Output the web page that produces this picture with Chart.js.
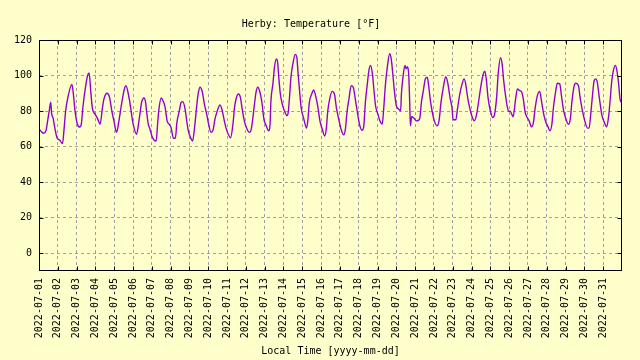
<!DOCTYPE html>
<html>
<head>
<meta charset="utf-8">
<script src="https://cdn.jsdelivr.net/npm/chart.js@4/dist/chart.umd.min.js"></script>
<style>
  html, body { margin: 0; padding: 0; background: #ffffcc; }
  #wrap { width: 640px; height: 360px; }
</style>
</head>
<body>
<div id="wrap"><canvas id="chart" width="640" height="360"></canvas></div>
<script>
// Herby temperature, July 2022 (hours since 2022-07-01 00:00, degrees F)

const dayLabels = [
  "2022-07-01", "2022-07-02", "2022-07-03", "2022-07-04", "2022-07-05", "2022-07-06",
  "2022-07-07", "2022-07-08", "2022-07-09", "2022-07-10", "2022-07-11", "2022-07-12",
  "2022-07-13", "2022-07-14", "2022-07-15", "2022-07-16", "2022-07-17", "2022-07-18",
  "2022-07-19", "2022-07-20", "2022-07-21", "2022-07-22", "2022-07-23", "2022-07-24",
  "2022-07-25", "2022-07-26", "2022-07-27", "2022-07-28", "2022-07-29", "2022-07-30",
  "2022-07-31",
];
const yTicks = [0, 20, 40, 60, 80, 100, 120];

// [hour, temp]
const week1 = [
  [0, 70], [4, 68], [6, 67.5], [9, 69], [11, 74.5], [13, 80], [15, 85], [16, 79], [18, 76], [20, 71], [23, 65],
  [26.5, 63.6], [30, 61.7], [32, 70], [34, 80], [37, 88], [42, 95], [44, 89], [46, 80],
  [49, 72.6], [52, 71], [54, 72.6], [56, 82], [59, 92.5], [62, 100], [64, 101.5], [66, 91.5], [68, 82],
  [72, 78], [75, 75.5], [78, 72.6], [81, 82], [83, 87], [87, 90], [90, 87.7], [93, 80],
  [96, 73.6], [99, 68], [102, 74.5], [105, 83], [109, 92.5], [111, 94.3], [114, 89.6], [117, 82], [118.5, 77],
  [120.5, 72], [124.5, 67], [127, 72.6], [129, 79], [131, 85], [134, 87.4], [136, 85], [137.5, 79], [139.5, 72.6], [141.5, 70],
  [144, 66], [147, 63.6], [149.5, 63.2], [151.5, 73.6], [153, 81], [156, 87.4], [159, 85], [161, 82], [163.5, 74.5], [166, 72.6],
];
const week2 = [
  [168.5, 70.8], [171.5, 64.7], [174, 64.7], [176, 73.6], [179, 80], [181.5, 85], [183.5, 85.3], [186.5, 81], [188.5, 74.5], [190.5, 69],
  [193.5, 65], [196, 63.2], [199, 72.6], [201.5, 84], [203.5, 90.6], [205.5, 93.4], [208.5, 90.6], [211, 84], [214, 78.3],
  [216, 73.6], [219.5, 68], [222.5, 70], [224.5, 75.5], [227.5, 80], [231, 83.4], [234, 80], [236.5, 74.5], [239, 70],
  [241.5, 67], [244.5, 65], [247.5, 72.6], [249.5, 82], [251.5, 86.8], [254.5, 89.6], [257, 87.7], [259, 82], [262, 74.5],
  [265, 70.4], [268.5, 68], [270.5, 69], [273, 76.4], [275, 84], [277, 90.6], [279, 93.4], [282, 90.6], [284.5, 84.9], [287, 75.5],
  [290, 71.7], [293, 68.9], [295, 73.6], [296, 85.8], [298.5, 95.3], [300.5, 104.7], [303, 109.4], [304.5, 107.5], [306, 99], [308, 89.6], [311, 83],
  [314, 79.2], [316.5, 77.4], [318, 79.2], [320, 89.6], [321.5, 99], [324, 106.6], [327, 111.9], [329, 110.4], [330.5, 102], [332.5, 91.5], [334.5, 82],
];
const week3 = [
  [338, 75.5], [341.5, 70.4], [343, 74.5], [345, 84.9], [348, 89.6], [350.5, 91.9], [353.5, 87.7], [356, 82], [358.5, 74.5],
  [361.5, 69.8], [364.5, 66], [366.5, 69.5], [368.5, 80], [370.5, 85.8], [374, 91.1], [377, 89.6], [379.5, 82], [382.5, 75.5],
  [385.5, 69.8], [389, 66.6], [391, 69.8], [393, 79.2], [395.5, 86.8], [398.5, 94.3], [401, 93.4], [404, 85.8], [407, 77.4],
  [409.5, 71.7], [412.5, 69.2], [414.5, 71.7], [416.5, 84.9], [419, 95.3], [421, 102.8], [423, 105.7], [425.5, 100.9], [427.5, 91.5], [429.5, 83],
  [432.5, 78.3], [435, 74.5], [438, 72.6], [440, 82], [442, 94.3], [444.5, 104.7], [447.5, 112.3], [449.5, 109.4], [451.5, 100.9], [453.5, 91.5],
  [456, 83], [459, 81.1], [461.5, 80.2], [462.5, 89.6], [464.5, 99], [467, 105.7], [468.5, 103.8], [470.5, 105], [472, 99], [473, 85.8], [474, 71.7], [475.5, 76.8],
  [478.5, 76], [481.5, 74.5], [484.5, 74.9], [486, 76], [488, 84.9], [490.5, 91.5], [493, 98.1], [495.5, 99], [497.5, 93.4], [499.5, 85.8], [502, 79.2],
];
const week4 = [
  [504.5, 74.5], [508, 71.7], [510.5, 74.5], [513, 84.9], [516, 93.4], [519, 99.4], [521.5, 96.2], [524.5, 87.7], [527, 82],
  [528.5, 75.1], [532, 75.1], [534, 81.1], [537, 89.6], [540, 95.3], [542.5, 98.1], [544.5, 95.3], [547, 87.7], [550, 81.1],
  [553, 76.4], [555.5, 74.5], [558.5, 78.3], [561.5, 86.8], [564, 94.3], [567, 100.9], [569, 102.5], [571, 97.2], [573, 87.7], [576, 80.2],
  [579, 76.4], [581, 77.4], [584, 87.7], [586, 100.9], [589, 110], [591, 106.6], [593, 97.2], [596, 86.8], [599, 80.2],
  [601.5, 79.8], [605, 76.8], [608.5, 87.7], [610.5, 92.5], [613.5, 91.5], [616, 90.6], [618, 86.8], [620.5, 79.2], [623.5, 76],
  [625.5, 74.5], [628.5, 71.1], [631, 73.6], [633, 81.1], [636, 88.7], [639, 91.1], [641.5, 84.9], [644.5, 77.4], [647, 73.6],
  [649, 71.7], [652, 68.9], [654.5, 72.6], [656.5, 82], [659.5, 91.5], [661.5, 95.7], [664.5, 95.3], [667, 87.7], [669.5, 80.2],
];
const week5 = [
  [672.5, 75.5], [675.5, 72.6], [678, 75.5], [680, 84.9], [683, 94.3], [685, 95.7], [688.5, 94.3], [690.5, 87.7], [693.5, 80.2],
  [696.5, 74.5], [700, 70.4], [702, 70.4], [704.5, 80.2], [706.5, 89.6], [708.5, 97.2], [710.5, 98.1], [712.5, 96.2], [715, 87.7], [718.5, 77.4],
  [721.5, 73.6], [724.5, 71.1], [727, 77.4], [729, 86.8], [731, 97.2], [733, 102.8], [735.5, 105.7], [737.5, 102.8], [739.5, 96.2], [741.5, 86.8], [743, 84.9],
];

const readings = [...week1, ...week2, ...week3, ...week4, ...week5];

Chart.defaults.font.family = "'DejaVu Sans Mono', monospace";
Chart.defaults.font.size = 10;
Chart.defaults.color = "#000";

// gnuplot-like box with small inward tic marks on all four sides
const frame = {
  id: "frame",
  afterDraw(chart) {
    const { ctx, chartArea: a, scales } = chart;
    const l = Math.round(a.left) + 0.5, r = Math.round(a.right) - 0.5;
    const t = Math.round(a.top) + 0.5, b = Math.round(a.bottom) - 0.5;
    const len = 4;
    ctx.save();
    ctx.strokeStyle = "#000";
    ctx.lineWidth = 1;
    ctx.beginPath();
    scales.x.ticks.forEach((tk) => {
      const px = Math.round(scales.x.getPixelForValue(tk.value)) + 0.5;
      ctx.moveTo(px, b); ctx.lineTo(px, b - len);
      ctx.moveTo(px, t); ctx.lineTo(px, t + len);
    });
    scales.y.ticks.forEach((tk) => {
      const py = Math.round(scales.y.getPixelForValue(tk.value)) + 0.5;
      ctx.moveTo(l, py); ctx.lineTo(l + len, py);
      ctx.moveTo(r, py); ctx.lineTo(r - len, py);
    });
    ctx.stroke();
    ctx.strokeRect(l, t, r - l, b - t);
    ctx.restore();
  },
};

new Chart(document.getElementById("chart"), {
  type: "line",
  data: {
    datasets: [
      {
        data: readings.map(([h, v]) => ({ x: h, y: v })),
        borderColor: "#9400d3",
        borderWidth: 1.4,
        pointRadius: 0,
        fill: false,
        cubicInterpolationMode: "monotone",
      },
    ],
  },
  options: {
    responsive: false,
    animation: false,
    layout: { padding: { left: 0, right: 18, top: 0, bottom: 0 } },
    plugins: {
      legend: { display: false },
      tooltip: { enabled: false },
      title: {
        display: true,
        text: "Herby: Temperature [°F]",
        color: "#000",
        font: { size: 10, weight: "normal" },
        padding: { top: 18, bottom: 10 },
      },
    },
    scales: {
      x: {
        type: "linear",
        min: 0,
        max: 744,
        afterBuildTicks: (axis) => {
          axis.ticks = dayLabels.map((_, i) => ({ value: i * 24 }));
        },
        afterFit: (s) => { s.height = 89; },
        ticks: {
          autoSkip: false,
          maxRotation: 90,
          minRotation: 90,
          padding: 7,
          callback: (v, i) => dayLabels[i],
        },
        grid: { color: "#a0a0a0", drawTicks: false },
        border: { display: false, dash: [3, 3] },
        title: {
          display: true,
          text: "Local Time [yyyy-mm-dd]",
          color: "#000",
          padding: { top: 3, bottom: 3 },
        },
      },
      y: {
        min: -10,
        max: 120,
        afterBuildTicks: (axis) => {
          axis.ticks = yTicks.map((v) => ({ value: v }));
        },
        afterFit: (s) => { s.width = 39; },
        ticks: { padding: 7 },
        grid: { color: "#a0a0a0", drawTicks: false },
        border: { display: false, dash: [3, 3] },
      },
    },
  },
  plugins: [frame],
});
</script>
</body>
</html>
